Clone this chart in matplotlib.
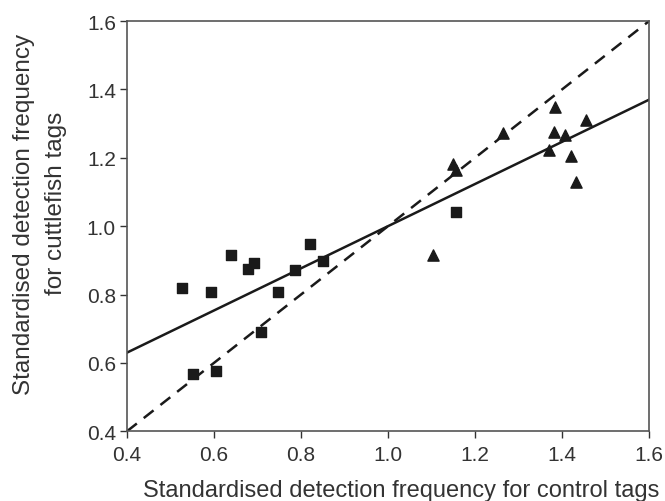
import matplotlib.pyplot as plt

plt.rcParams['font.family'] = ['Liberation Sans', 'DejaVu Sans']

# squares: control tags vs cuttlefish tags (group 1)
sq_x = [0.527, 0.593, 0.638, 0.679, 0.692, 0.746, 0.709, 0.787, 0.821, 0.851, 0.552, 0.605, 1.157]
sq_y = [0.818, 0.808, 0.915, 0.876, 0.891, 0.808, 0.690, 0.873, 0.949, 0.898, 0.568, 0.577, 1.041]

# triangles (group 2)
tri_x = [1.103, 1.149, 1.157, 1.265, 1.384, 1.381, 1.407, 1.455, 1.369, 1.421, 1.433]
tri_y = [0.915, 1.183, 1.164, 1.274, 1.349, 1.276, 1.268, 1.312, 1.224, 1.204, 1.130]

# regression line end points and 1:1 line
fit_x = [0.4, 1.6]
fit_y = [0.63, 1.37]
one_x = [0.4, 1.6]
one_y = [0.4, 1.6]

ticks = [0.4, 0.6, 0.8, 1.0, 1.2, 1.4, 1.6]

fig = plt.figure(figsize=(6.65, 5.02), dpi=100)
ax = fig.add_axes([0.191, 0.139, 0.785, 0.817])

ax.plot(one_x, one_y, '--', color='#1a1a1a', lw=1.8, dashes=(5, 3.5))
ax.plot(fit_x, fit_y, '-', color='#1a1a1a', lw=1.8)
ax.scatter(sq_x, sq_y, marker='s', s=55, color='#1a1a1a', zorder=3)
ax.scatter(tri_x, tri_y, marker='^', s=65, color='#1a1a1a', zorder=3)

ax.set_xlim(0.4, 1.6)
ax.set_ylim(0.4, 1.6)
ax.set_xticks(ticks)
ax.set_yticks(ticks)
ax.set_xticklabels(['%.1f' % t for t in ticks])
ax.set_yticklabels(['%.1f' % t for t in ticks])
ax.tick_params(direction='out', length=5, width=1, colors='#333333', labelsize=15,
               labelcolor='#333333')
ax.tick_params(axis='x', pad=5)
ax.tick_params(axis='y', pad=3)
for s in ax.spines.values():
    s.set_color('#555555')
    s.set_linewidth(1.2)

# axis titles placed by hand
fig.text(401 / 665, 1 - 497 / 502, 'Standardised detection frequency for control tags',
         fontsize=17, color='#333333', ha='center', va='baseline')
fig.text(24 / 665, 1 - 214 / 502, 'Standardised detection frequency',
         fontsize=17.5, color='#333333', ha='center', va='center', rotation=90)
fig.text(56 / 665, 1 - 203 / 502, 'for cuttlefish tags',
         fontsize=17.5, color='#333333', ha='center', va='center', rotation=90)

fig.savefig('out.png')
